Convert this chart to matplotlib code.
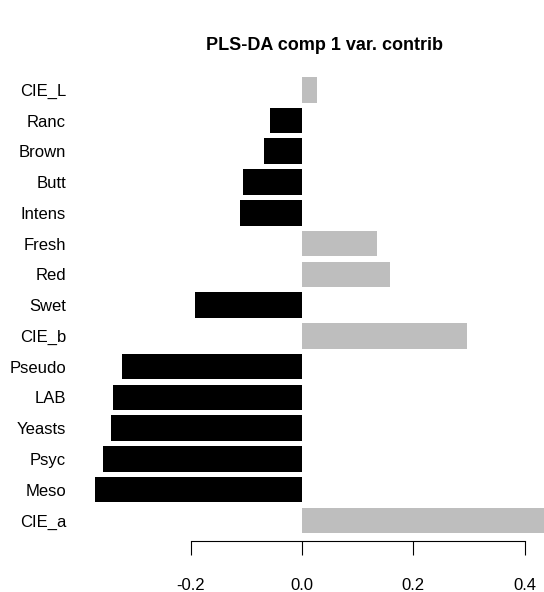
import matplotlib
matplotlib.use("Agg")
import matplotlib.pyplot as plt

plt.rcParams['font.family'] = ['Liberation Sans', 'DejaVu Sans']

# variables from bottom to top
variables = ['CIE_a', 'Meso', 'Psyc', 'Yeasts', 'LAB', 'Pseudo', 'CIE_b',
             'Swet', 'Red', 'Fresh', 'Intens', 'Butt', 'Brown', 'Ranc', 'CIE_L']
contrib = [0.45, -0.371, -0.357, -0.343, -0.340, -0.323, 0.297,
           -0.192, 0.158, 0.135, -0.111, -0.106, -0.069, -0.057, 0.027]
xticks = [-0.2, 0.0, 0.2, 0.4]
xticklabels = ['-0.2', '0.0', '0.2', '0.4']

W, H = 544, 592
fig = plt.figure(figsize=(W / 100, H / 100), dpi=100)

# pixel layout (from top-left)
left_px, right_px = 80, 544
top_px, bottom_px = 60, 540.7
ax = fig.add_axes([left_px / W, 1 - bottom_px / H,
                   (right_px - left_px) / W, (bottom_px - top_px) / H])

# x scale: 0 at px 302, 557 px per unit
zero_px, px_per_unit = 302, 557
ax.set_xlim((left_px - zero_px) / px_per_unit, (right_px - zero_px) / px_per_unit)
# y scale: bottom bar centre at px 520.4, spacing 30.76 px
y0_px, step = 520.4, 30.76
ax.set_ylim((y0_px - bottom_px) / step, (y0_px - top_px) / step)

colors = ['black' if v < 0 else '#BEBEBE' for v in contrib]
ax.barh(range(len(variables)), contrib, height=1 / 1.2, color=colors,
        edgecolor='none')

ax.set_yticks(range(len(variables)))
ax.set_yticklabels(variables, fontsize=12)
ax.tick_params(axis='y', length=0, pad=10)

ax.set_xticks(xticks)
ax.set_xticklabels(xticklabels, fontsize=12)
ax.tick_params(axis='x', length=10, width=0.8, pad=17, direction='out')

for s in ['top', 'right', 'left']:
    ax.spines[s].set_visible(False)
ax.spines['bottom'].set_bounds(xticks[0], xticks[-1])
ax.spines['bottom'].set_linewidth(0.8)

fig.text(324 / W, 1 - 45 / H, 'PLS-DA comp 1 var. contrib',
         ha='center', va='center', fontsize=13, fontweight='bold')

fig.savefig('out.png', dpi=100)
